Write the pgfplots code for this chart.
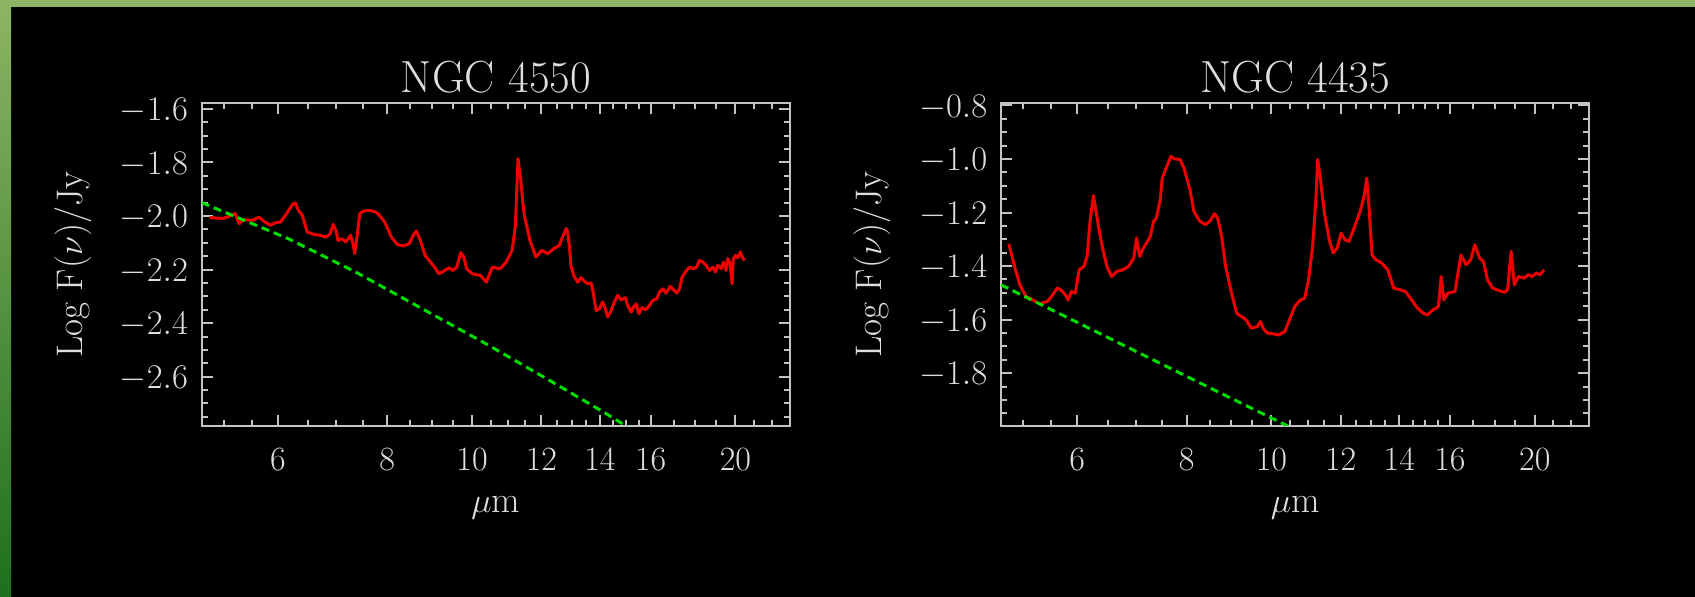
\documentclass[border=0pt]{standalone}
\usepackage{fontspec}
\usepackage{pgfplots}
\pgfplotsset{compat=1.18}

\definecolor{framegray}{RGB}{195,195,195}
\definecolor{labelgray}{RGB}{222,222,222}
\definecolor{specred}{RGB}{238,0,0}
\definecolor{stargreen}{RGB}{0,222,0}
\definecolor{bandlight}{RGB}{141,180,100}
\definecolor{banddark}{RGB}{30,112,30}

\pgfplotsset{
  irsbox/.style={
    scale only axis, width=294.2pt, height=161.5pt,
    xmin=4.91, xmax=23.09,
    axis line style={framegray, line width=1pt},
    tick style={framegray, line width=1pt},
    tick align=inside,
    major tick length=5.5pt, minor tick length=3pt,
    xtick={6,8,10,12,14,16,20},
    xticklabels={6,8,10,12,14,16,20},
    minor xtick={5.2,5.6,6.5,7,7.5,8.5,9,9.5,10.5,11,11.5,12.5,13,13.5,14.5,15,15.5,17,18,19,21,22},
    ticklabel style={labelgray, font=\fontsize{17}{20}\selectfont},
    xticklabel style={anchor=base, yshift=-22.3pt},
    yticklabel style={anchor=east, inner sep=0pt, xshift=-6.7pt, yshift=-1pt,
      /pgf/number format/fixed, /pgf/number format/fixed zerofill,
      /pgf/number format/precision=1},
    label style={labelgray, font=\fontsize{18.5}{22}\selectfont},
    xlabel={$\mu$m},
    xlabel style={at={(axis description cs:0.5,-0.2663)}, anchor=base},
    ylabel={Log F($\nu$)/Jy},
    ylabel style={at={(axis description cs:-0.2034,0.5)}, anchor=base},
    every axis title/.style={labelgray, font=\fontsize{22.5}{27}\selectfont,
      at={(axis description cs:0.5,1.032)}, anchor=base},
  },
  irsspec/.style={specred, line width=1.5pt, line join=round},
  irsstar/.style={stargreen, line width=1.5pt, dash pattern=on 4pt off 2.5pt},
}

\begin{document}
\begin{tikzpicture}
\fill[black] (0,0) rectangle (847.5pt,298.5pt);
\path[use as bounding box] (0,0) rectangle (847.5pt,298.5pt);
\shade[top color=bandlight, bottom color=banddark] (0,0) rectangle (5.5pt,298.5pt);
\fill[bandlight] (0,295pt) rectangle (847.5pt,298.5pt);

% NGC 4550
\begin{axis}[xmode=log, irsbox, at={(100.85pt,85.5pt)}, anchor=south west,
  ymin=-2.784, ymax=-1.578,
  ytick={-2.6,-2.4,-2.2,-2.0,-1.8,-1.6},
  minor ytick={-2.75,-2.7,...,-1.6},
  title={NGC 4550}]
\addplot[irsspec] coordinates {
(5.012,-2.006) (5.198,-2.009) (5.307,-1.998) (5.363,-1.991) (5.419,-2.029)
(5.476,-2.014) (5.620,-2.016) (5.708,-2.004) (5.798,-2.022) (5.889,-2.035)
(5.950,-2.026) (6.044,-2.022) (6.139,-1.991) (6.236,-1.956) (6.281,-1.951)
(6.334,-1.979) (6.400,-1.998) (6.481,-2.060) (6.603,-2.069) (6.707,-2.072)
(6.813,-2.079) (6.884,-2.066) (6.941,-2.031) (6.992,-2.054) (7.028,-2.091)
(7.102,-2.085) (7.176,-2.097) (7.266,-2.072) (7.312,-2.103) (7.343,-2.141)
(7.389,-2.079) (7.443,-1.991) (7.521,-1.981) (7.639,-1.979) (7.759,-1.985)
(7.841,-1.998) (7.947,-2.022) (8.089,-2.079) (8.216,-2.106) (8.346,-2.112)
(8.477,-2.103) (8.566,-2.072) (8.637,-2.056) (8.728,-2.091) (8.837,-2.147)
(9.025,-2.184) (9.167,-2.216) (9.311,-2.203) (9.409,-2.193) (9.506,-2.203)
(9.606,-2.191) (9.705,-2.137) (9.785,-2.153) (9.857,-2.197) (10.012,-2.216)
(10.223,-2.222) (10.383,-2.247) (10.547,-2.191) (10.769,-2.197) (10.938,-2.172)
(11.111,-2.128) (11.204,-2.041) (11.286,-1.786) (11.368,-1.867) (11.464,-1.991)
(11.645,-2.091) (11.828,-2.153) (12.014,-2.128) (12.203,-2.141) (12.395,-2.122)
(12.58,-2.110) (12.69,-2.078) (12.81,-2.047) (12.86,-2.060) (12.92,-2.116)
(12.98,-2.191) (13.09,-2.228) (13.21,-2.247) (13.32,-2.230) (13.44,-2.244)
(13.56,-2.253) (13.68,-2.250) (13.74,-2.278) (13.86,-2.353) (13.98,-2.346)
(14.10,-2.321) (14.20,-2.346) (14.29,-2.377) (14.42,-2.353) (14.54,-2.321)
(14.67,-2.296) (14.80,-2.313) (14.97,-2.305) (15.06,-2.334) (15.20,-2.359)
(15.29,-2.340) (15.40,-2.328) (15.51,-2.365) (15.64,-2.342) (15.78,-2.350)
(15.92,-2.338) (16.09,-2.315) (16.26,-2.309) (16.37,-2.284) (16.52,-2.272)
(16.66,-2.288) (16.84,-2.263) (16.99,-2.275) (17.14,-2.288) (17.26,-2.272)
(17.38,-2.228) (17.53,-2.209) (17.72,-2.191) (17.87,-2.197) (18.06,-2.191)
(18.19,-2.166) (18.35,-2.172) (18.51,-2.184) (18.68,-2.203) (18.84,-2.191)
(18.97,-2.209) (19.09,-2.184) (19.26,-2.197) (19.38,-2.172) (19.51,-2.203)
(19.60,-2.159) (19.72,-2.178) (19.82,-2.253) (19.89,-2.159) (20.00,-2.147)
(20.12,-2.156) (20.25,-2.134) (20.35,-2.153) (20.48,-2.166)
};
\addplot[irsstar] coordinates {
(4.91,-1.950) (6.17,-2.085) (7.36,-2.209) (8.77,-2.346) (10.45,-2.483)
(12.46,-2.627) (14.2,-2.736) (15.1,-2.790)
};
\end{axis}

% NGC 4435
\begin{axis}[xmode=log, irsbox, at={(500.5pt,85.5pt)}, anchor=south west,
  ymin=-1.997, ymax=-0.791,
  ytick={-1.8,-1.6,-1.4,-1.2,-1.0,-0.8},
  minor ytick={-1.95,-1.9,...,-0.8},
  title={NGC 4435}]
\addplot[irsspec] coordinates {
(5.012,-1.317) (5.054,-1.364) (5.107,-1.420) (5.160,-1.470) (5.241,-1.513)
(5.296,-1.520) (5.379,-1.532) (5.435,-1.541) (5.492,-1.536) (5.550,-1.532)
(5.608,-1.513) (5.696,-1.482) (5.756,-1.491) (5.816,-1.507) (5.858,-1.526)
(5.908,-1.495) (5.969,-1.501) (6.031,-1.414) (6.107,-1.401) (6.158,-1.364)
(6.209,-1.227) (6.262,-1.137) (6.301,-1.189) (6.354,-1.264) (6.420,-1.339)
(6.487,-1.401) (6.569,-1.439) (6.658,-1.420) (6.763,-1.414) (6.869,-1.401)
(6.963,-1.370) (7.014,-1.295) (7.072,-1.364) (7.124,-1.339) (7.199,-1.314)
(7.274,-1.289) (7.335,-1.233) (7.389,-1.221) (7.466,-1.152) (7.505,-1.071)
(7.583,-1.034) (7.678,-0.990) (7.742,-0.999) (7.864,-1.002) (7.947,-1.034)
(8.072,-1.115) (8.156,-1.196) (8.285,-1.233) (8.415,-1.245) (8.503,-1.233)
(8.610,-1.204) (8.682,-1.221) (8.773,-1.289) (8.865,-1.401) (9.005,-1.501)
(9.127,-1.576) (9.242,-1.588) (9.358,-1.601) (9.486,-1.632) (9.636,-1.626)
(9.716,-1.607) (9.785,-1.632) (9.888,-1.650) (10.044,-1.653) (10.202,-1.657)
(10.362,-1.644) (10.525,-1.588) (10.635,-1.551) (10.780,-1.528) (10.915,-1.520)
(11.029,-1.451) (11.146,-1.326) (11.237,-1.164) (11.296,-1.002) (11.379,-1.077)
(11.498,-1.202) (11.645,-1.302) (11.766,-1.351) (11.889,-1.333) (12.014,-1.277)
(12.139,-1.302) (12.266,-1.308) (12.433,-1.258) (12.629,-1.196) (12.761,-1.140)
(12.855,-1.071) (12.935,-1.189) (13.030,-1.358) (13.166,-1.376) (13.373,-1.389)
(13.584,-1.414) (13.798,-1.482) (14.015,-1.488) (14.235,-1.495) (14.459,-1.526)
(14.687,-1.557) (14.918,-1.576) (15.075,-1.582) (15.312,-1.563) (15.520,-1.551)
(15.633,-1.439) (15.747,-1.526) (15.912,-1.501) (16.213,-1.495) (16.468,-1.358)
(16.693,-1.395) (16.902,-1.376) (17.079,-1.320) (17.294,-1.370) (17.475,-1.383)
(17.658,-1.451) (17.898,-1.482) (18.180,-1.491) (18.466,-1.498) (18.620,-1.488)
(18.796,-1.345) (18.953,-1.470) (19.151,-1.439) (19.454,-1.445) (19.657,-1.432)
(19.863,-1.439) (20.071,-1.426) (20.281,-1.432) (20.493,-1.414)
};
\addplot[irsstar] coordinates {
(4.91,-1.470) (5.99,-1.609) (7.0,-1.718) (8.50,-1.854) (10.2,-1.981) (10.5,-2.001)
};
\end{axis}
\end{tikzpicture}
\end{document}
